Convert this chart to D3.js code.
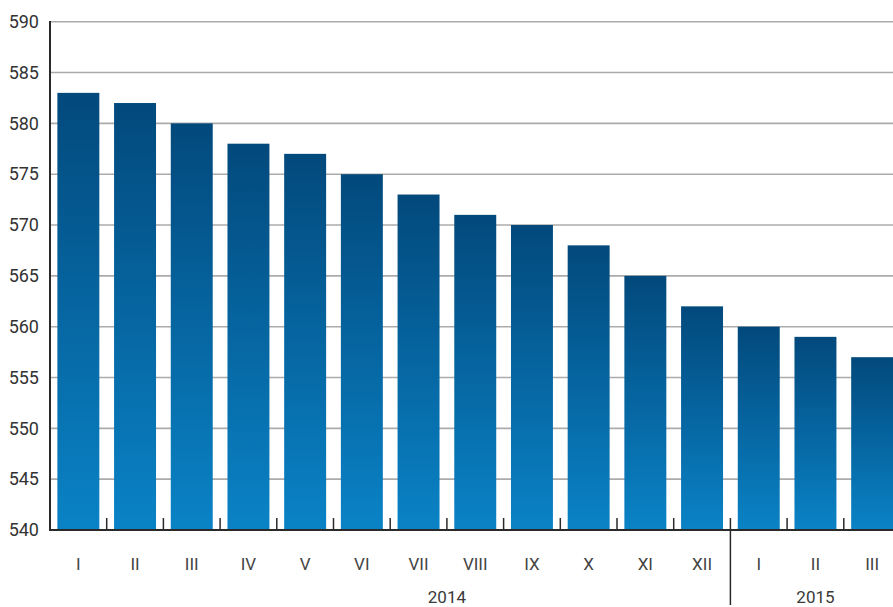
<!DOCTYPE html>
<html>
<head>
<meta charset="utf-8">
<script src="https://cdn.jsdelivr.net/npm/d3@7"></script>
<style>
  html, body { margin: 0; padding: 0; background: #fff; }
  svg { display: block; }
  text { font-family: Roboto, "Noto Sans", sans-serif; fill: #333; }
</style>
</head>
<body>
<svg id="chart" width="893" height="607"></svg>
<script>
// Monthly values, Jan 2014 – Mar 2015
const months = ["I","II","III","IV","V","VI","VII","VIII","IX","X","XI","XII","I","II","III"];
const years  = ["2014","2014","2014","2014","2014","2014","2014","2014","2014","2014","2014","2014","2015","2015","2015"];
const values = [583, 582, 580, 578, 577, 575, 573, 571, 570, 568, 565, 562, 560, 559, 557];
const yTicks = [540, 545, 550, 555, 560, 565, 570, 575, 580, 585, 590];
const yearLabels = ["2014", "2015"];

const W = 893, H = 607;
const plotLeft = 50, plotTop = 21.7, plotBottom = 530, step = 56.7;
const svg = d3.select("#chart");

const idx = d3.range(values.length);
const x = d3.scaleBand()
  .domain(idx)
  .range([plotLeft, plotLeft + step * idx.length])
  .paddingInner(0.26)
  .paddingOuter(0.13);

const y = d3.scaleLinear().domain([540, 590]).range([plotBottom, plotTop]);

// vertical gradient used by every bar
const grad = svg.append("defs").append("linearGradient")
  .attr("id", "barGrad").attr("x1", 0).attr("y1", 0).attr("x2", 0).attr("y2", 1);
grad.append("stop").attr("offset", "0%").attr("stop-color", "#02497c");
grad.append("stop").attr("offset", "100%").attr("stop-color", "#0a83c6");

// horizontal gridlines
svg.append("g").selectAll("line")
  .data(yTicks.filter(t => t > 540))
  .join("line")
  .attr("x1", plotLeft).attr("x2", W)
  .attr("y1", d => y(d)).attr("y2", d => y(d))
  .attr("stroke", "#ababab").attr("stroke-width", 1.6);

// bars
svg.append("g").selectAll("rect")
  .data(idx)
  .join("rect")
  .attr("x", i => x(i))
  .attr("width", x.bandwidth())
  .attr("y", i => y(values[i]))
  .attr("height", i => y(540) - y(values[i]))
  .attr("fill", "url(#barGrad)");

// y axis
const yAxis = d3.axisLeft(y).tickValues(yTicks).tickSize(0).tickPadding(11).tickFormat(d3.format("d"));
const gy = svg.append("g").attr("transform", `translate(${plotLeft},0)`).call(yAxis);
gy.select(".domain").remove();
gy.selectAll("text").attr("font-size", 18).attr("font-family", "Roboto, sans-serif").attr("fill", "#333");
svg.append("line")
  .attr("x1", plotLeft).attr("x2", plotLeft).attr("y1", plotTop - 0.8).attr("y2", plotBottom + 1)
  .attr("stroke", "#2a2a2a").attr("stroke-width", 2);

// baseline with small ticks at category boundaries
svg.append("line")
  .attr("x1", plotLeft).attr("x2", W).attr("y1", plotBottom).attr("y2", plotBottom)
  .attr("stroke", "#2a2a2a").attr("stroke-width", 2);
const boundary = i => x(i) - x.step() * x.paddingInner() / 2;
svg.append("g").selectAll("line")
  .data(d3.range(1, values.length).map(boundary))
  .join("line")
  .attr("x1", d => d).attr("x2", d => d)
  .attr("y1", plotBottom).attr("y2", plotBottom - 12)
  .attr("stroke", "#2a2a2a").attr("stroke-width", 1.5);

// month labels
svg.append("g").selectAll("text")
  .data(idx)
  .join("text")
  .attr("x", i => x(i) + x.bandwidth() / 2)
  .attr("y", 570)
  .attr("text-anchor", "middle")
  .attr("font-size", 17)
  .style("fill", "#444")
  .text(i => months[i]);

// year separator and year labels
const firstOfYear = yearLabels.map(yr => years.indexOf(yr));
firstOfYear.slice(1).forEach(i => {
  const bx = boundary(i);
  svg.append("line")
    .attr("x1", bx).attr("x2", bx).attr("y1", plotBottom).attr("y2", 605)
    .attr("stroke", "#2a2a2a").attr("stroke-width", 1.5);
});
// 2014 sits under the boundary between VII and VIII; 2015 under its three months
const yearX = [
  boundary(7),
  (boundary(12) + plotLeft + step * idx.length) / 2
];
svg.append("g").selectAll("text")
  .data(yearLabels)
  .join("text")
  .attr("x", (d, i) => yearX[i])
  .attr("y", 603)
  .attr("text-anchor", "middle")
  .attr("font-size", 17)
  .style("fill", "#3a3a3a")
  .text(d => d);
</script>
</body>
</html>
